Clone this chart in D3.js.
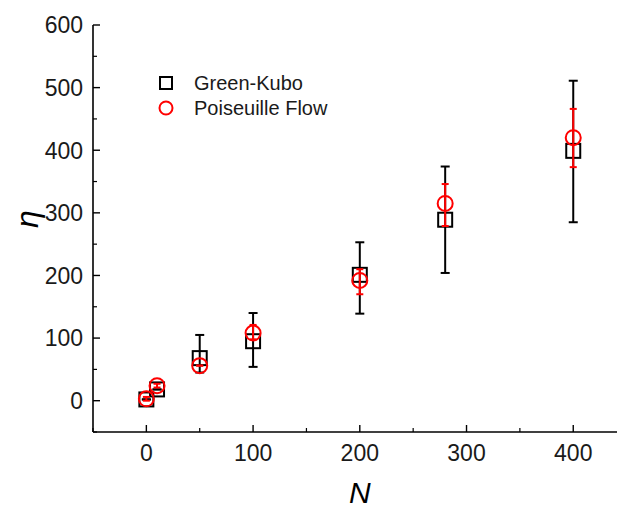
<!DOCTYPE html>
<html>
<head>
<meta charset="utf-8">
<script src="https://cdn.jsdelivr.net/npm/d3@7"></script>
<style>
  body { margin: 0; background: #fff; }
  svg { display: block; font-family: "Liberation Sans", Arial, sans-serif; }
</style>
</head>
<body>
<div id="chart"></div>
<script>
// data
var nValues = [0, 10, 50, 100, 200, 280, 400];

var gkMean = [2, 18, 68, 95, 201, 289, 399];
var gkLow  = [2, 18, 45, 54, 139, 204, 285];
var gkHigh = [2, 18, 105, 140, 253, 374, 511];

var pfMean = [3, 24, 56, 108, 192, 315, 420];
var pfLow  = [0, 21, 56, 98, 170, 279, 373];
var pfHigh = [6, 27, 56, 121, 210, 346, 466];

var xTicks = [0, 100, 200, 300, 400];
var yTicks = [0, 100, 200, 300, 400, 500, 600];

var width = 618, height = 512;

var svg = d3.select("#chart").append("svg")
    .attr("width", width)
    .attr("height", height);

// scales
var xScale = d3.scaleLinear().domain([-50, 441]).range([93, 617]);
var yScale = d3.scaleLinear().domain([-50, 600]).range([432, 25]);

// minor ticks every 50
var xMinor = d3.range(-50, 441, 50).filter(function(d) { return xTicks.indexOf(d) < 0; });
var yMinor = d3.range(-50, 601, 50).filter(function(d) { return yTicks.indexOf(d) < 0; });

// x axis
var xAxis = svg.append("g").attr("transform", "translate(0,432)");
xAxis.append("line")
    .attr("x1", xScale.range()[0]).attr("x2", xScale.range()[1])
    .attr("stroke", "#000").attr("stroke-width", 1.6);
xAxis.selectAll(".maj").data(xTicks).enter().append("line")
    .attr("x1", xScale).attr("x2", xScale)
    .attr("y1", 0).attr("y2", -7)
    .attr("stroke", "#000").attr("stroke-width", 1.4);
xAxis.selectAll(".min").data(xMinor).enter().append("line")
    .attr("x1", xScale).attr("x2", xScale)
    .attr("y1", 0).attr("y2", -4)
    .attr("stroke", "#000").attr("stroke-width", 1.2);
xAxis.selectAll("text").data(xTicks).enter().append("text")
    .attr("x", xScale).attr("y", 29)
    .attr("text-anchor", "middle")
    .attr("font-size", 23)
    .attr("fill", "#1a1a1a")
    .text(function(d) { return d; });

// y axis
var yAxis = svg.append("g").attr("transform", "translate(93,0)");
yAxis.append("line")
    .attr("y1", yScale.range()[0]).attr("y2", yScale.range()[1])
    .attr("stroke", "#000").attr("stroke-width", 1.6);
yAxis.selectAll(".maj").data(yTicks).enter().append("line")
    .attr("y1", yScale).attr("y2", yScale)
    .attr("x1", 0).attr("x2", 7)
    .attr("stroke", "#000").attr("stroke-width", 1.4);
yAxis.selectAll(".min").data(yMinor).enter().append("line")
    .attr("y1", yScale).attr("y2", yScale)
    .attr("x1", 0).attr("x2", 4)
    .attr("stroke", "#000").attr("stroke-width", 1.2);
yAxis.selectAll("text").data(yTicks).enter().append("text")
    .attr("x", -10).attr("y", yScale)
    .attr("dy", "0.36em")
    .attr("text-anchor", "end")
    .attr("font-size", 23)
    .attr("fill", "#1a1a1a")
    .text(function(d) { return d; });

// axis titles
svg.append("text")
    .attr("x", xScale(200)).attr("y", 503)
    .attr("text-anchor", "middle")
    .attr("font-size", 30).attr("font-style", "italic")
    .text("N");
svg.append("text")
    .attr("transform", "translate(38," + yScale(290) + ") rotate(-90)")
    .attr("text-anchor", "middle")
    .attr("font-size", 32).attr("font-style", "italic")
    .text("η");

// error bars + markers
function drawSeries(mean, low, high, color, cap, shape) {
    var g = svg.append("g");
    var rows = nValues.map(function(n, i) {
        return { n: n, m: mean[i], lo: low[i], hi: high[i] };
    });
    g.selectAll(".bar").data(rows).enter().append("line")
        .attr("x1", function(d) { return xScale(d.n); })
        .attr("x2", function(d) { return xScale(d.n); })
        .attr("y1", function(d) { return yScale(d.lo); })
        .attr("y2", function(d) { return yScale(d.hi); })
        .attr("stroke", color).attr("stroke-width", 2);
    ["lo", "hi"].forEach(function(k) {
        g.selectAll(".cap" + k).data(rows).enter().append("line")
            .attr("x1", function(d) { return xScale(d.n) - cap; })
            .attr("x2", function(d) { return xScale(d.n) + cap; })
            .attr("y1", function(d) { return yScale(d[k]); })
            .attr("y2", function(d) { return yScale(d[k]); })
            .attr("stroke", color).attr("stroke-width", 2);
    });
    if (shape === "square") {
        g.selectAll(".mk").data(rows).enter().append("rect")
            .attr("x", function(d) { return xScale(d.n) - 7; })
            .attr("y", function(d) { return yScale(d.m) - 7; })
            .attr("width", 14).attr("height", 14)
            .attr("fill", "none").attr("stroke", color).attr("stroke-width", 2);
    } else {
        g.selectAll(".mk").data(rows).enter().append("circle")
            .attr("cx", function(d) { return xScale(d.n); })
            .attr("cy", function(d) { return yScale(d.m); })
            .attr("r", 7.5)
            .attr("fill", "none").attr("stroke", color).attr("stroke-width", 2);
    }
}

drawSeries(gkMean, gkLow, gkHigh, "#000", 4.5, "square");
drawSeries(pfMean, pfLow, pfHigh, "#ff0000", 3.5, "circle");

// legend
var legend = svg.append("g").attr("transform", "translate(166,83)");
legend.append("rect")
    .attr("x", -6).attr("y", -6).attr("width", 12).attr("height", 12)
    .attr("fill", "none").attr("stroke", "#000").attr("stroke-width", 2);
legend.append("text")
    .attr("x", 28).attr("y", 0).attr("dy", "0.36em")
    .attr("font-size", 20).attr("fill", "#1a1a1a")
    .text("Green-Kubo");
legend.append("circle")
    .attr("cx", 0).attr("cy", 25).attr("r", 6.5)
    .attr("fill", "none").attr("stroke", "#ff0000").attr("stroke-width", 2);
legend.append("text")
    .attr("x", 28).attr("y", 25).attr("dy", "0.36em")
    .attr("font-size", 20).attr("fill", "#1a1a1a")
    .text("Poiseuille Flow");
</script>
</body>
</html>
